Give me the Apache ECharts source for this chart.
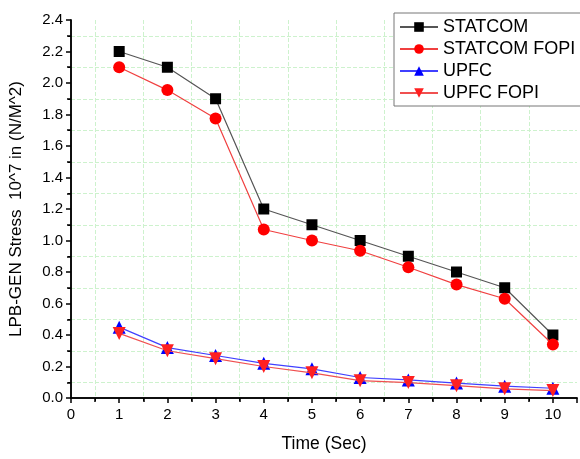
<!DOCTYPE html>
<html><head><meta charset="utf-8">
<script src="https://cdn.jsdelivr.net/npm/echarts@6/dist/echarts.min.js"></script>
<style>html,body{margin:0;padding:0;background:#fff}#c{width:580px;height:459px}</style>
</head><body><div id="c"></div>
<script>
var times = [1,2,3,4,5,6,7,8,9,10];
var statcom = [2.2,2.1,1.9,1.2,1.1,1.0,0.9,0.8,0.7,0.4];
var statcomFopi = [2.1,1.955,1.775,1.07,1.0,0.935,0.83,0.72,0.63,0.34];
var upfc = [0.45,0.32,0.27,0.22,0.185,0.13,0.115,0.095,0.075,0.062];
var upfcFopi = [0.41,0.30,0.25,0.20,0.16,0.11,0.098,0.078,0.058,0.047];
var names = ['STATCOM','STATCOM FOPI','UPFC','UPFC FOPI'];

function pairs(v){return times.map(function(t,i){return [t,v[i]];});}
var font = 'Arial, "Liberation Sans", sans-serif';
var chart = echarts.init(document.getElementById('c'));
var axisLine = {show:true,lineStyle:{color:'#000',width:1.5}};
var grid = {lineStyle:{color:'#cdf2cd',type:'dashed',width:1}};
chart.setOption({
  animation:false,
  backgroundColor:'#fff',
  grid:{left:70,right:2,top:20,bottom:61,containLabel:false},
  xAxis:[{
    type:'value',min:0,max:10.5,interval:1,
    name:'Time (Sec)',nameLocation:'middle',nameGap:37,
    nameTextStyle:{fontFamily:font,fontSize:17.5,color:'#000'},
    axisLine:axisLine,
    axisTick:{show:true,inside:false,length:5,lineStyle:{color:'#000',width:1.5}},
    minorTick:{show:true,splitNumber:2,length:4,lineStyle:{color:'#000',width:1.5}},
    splitLine:{show:false},
    minorSplitLine:Object.assign({show:true},grid),
    axisLabel:{fontFamily:font,fontSize:15,color:'#000',margin:9,
      formatter:function(v){return v>10?'':String(v);}}
  },{
    type:'value',position:'top',min:0,max:10.5,interval:1,
    axisLine:axisLine,
    axisTick:{show:true,inside:true,length:5,lineStyle:{color:'#000',width:1.5}},
    minorTick:{show:true,splitNumber:2,length:3,lineStyle:{color:'#000',width:1}},
    splitLine:{show:false},axisLabel:{show:false}
  }],
  yAxis:[{
    type:'value',min:0,max:2.4,interval:0.2,
    name:'LPB-GEN Stress  10^7 in (N/M^2)',nameLocation:'middle',nameGap:46,
    nameTextStyle:{fontFamily:font,fontSize:17,color:'#000'},
    axisLine:axisLine,
    axisTick:{show:true,inside:false,length:5,lineStyle:{color:'#000',width:1.5}},
    minorTick:{show:true,splitNumber:2,length:4,lineStyle:{color:'#000',width:1.5}},
    splitLine:{show:false},
    minorSplitLine:Object.assign({show:true},grid),
    axisLabel:{fontFamily:font,fontSize:15,color:'#000',margin:8,
      formatter:function(v){return v.toFixed(1);}}
  },{
    type:'value',position:'right',min:0,max:2.4,interval:0.2,
    axisLine:axisLine,
    axisTick:{show:true,inside:true,length:5,lineStyle:{color:'#000',width:1.5}},
    minorTick:{show:true,splitNumber:2,length:3,lineStyle:{color:'#000',width:1}},
    splitLine:{show:false},axisLabel:{show:false}
  }],
  legend:{
    left:394,top:13,orient:'vertical',
    padding:[5,12,4,5],itemGap:4,itemWidth:38,itemHeight:12,
    backgroundColor:'#fff',borderColor:'#777',borderWidth:1,borderRadius:0,
    textStyle:{fontFamily:font,fontSize:18,color:'#000'},
    data:names
  },
  series:[
    {name:names[0],type:'line',data:pairs(statcom),symbol:'rect',symbolSize:11,
     lineStyle:{color:'#555',width:1.2},itemStyle:{color:'#000'},z:3},
    {name:names[1],type:'line',data:pairs(statcomFopi),symbol:'circle',symbolSize:12,
     lineStyle:{color:'#f04040',width:1.2},itemStyle:{color:'#ff0000'},z:4},
    {name:names[2],type:'line',data:pairs(upfc),symbol:'triangle',symbolSize:13,
     lineStyle:{color:'#4040ff',width:1.2},itemStyle:{color:'#0000ff'},z:5},
    {name:names[3],type:'line',data:pairs(upfcFopi),symbol:'triangle',symbolRotate:180,symbolSize:13,
     lineStyle:{color:'#f05050',width:1.2},itemStyle:{color:'#ff2020'},z:6}
  ]
});
</script></body></html>
